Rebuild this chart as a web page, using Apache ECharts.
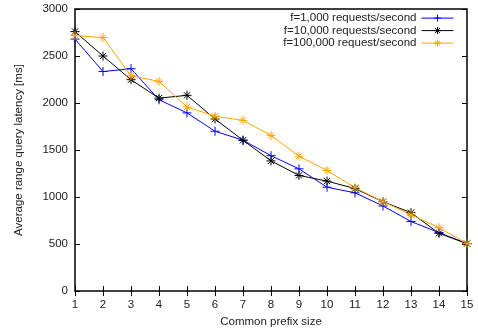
<!DOCTYPE html>
<html><head><meta charset="utf-8">
<script src="https://cdn.jsdelivr.net/npm/echarts@6/dist/echarts.min.js"></script>
<style>html,body{margin:0;padding:0;background:#fff}#c{width:478px;height:333px}</style>
</head><body><div id="c"></div>
<script>
const categories = [1,2,3,4,5,6,7,8,9,10,11,12,13,14,15];
const f1000 = [2680,2335,2365,2035,1895,1700,1605,1440,1300,1105,1045,905,740,622,505];
const f10000 = [2760,2500,2248,2052,2082,1830,1604,1385,1230,1170,1090,950,834,615,505];
const f100000 = [2718,2696,2290,2230,1958,1859,1816,1654,1435,1283,1100,951,812,675,505];
const seriesNames = ['f=1,000 requests/second','f=10,000 requests/second','f=100,000 request/second'];
const seriesColors = ['#0000ff','#000000','#ffa500'];
const yTicks = [0,500,1000,1500,2000,2500,3000];

const plus = 'path://M0,5L10,5M5,0L5,10';
const star = 'path://M0,5L10,5M5,0L5,10M1.5,1.5L8.5,8.5M1.5,8.5L8.5,1.5';
const symbols = [plus, star, star];
const font = 'Liberation Sans';
function mk(i, data){
  const color = seriesColors[i];
  return {name: seriesNames[i], type:'line', data: data.map((v,k)=>[categories[k], v]), symbol: symbols[i], symbolSize: 9,
    lineStyle:{color, width:1}, itemStyle:{color:'none', borderColor:color, borderWidth:1},
    emphasis:{disabled:true}, animation:false, z: 3};
}
const legends = seriesNames.map((n,i)=>({
  orient:'vertical', right:24, top:12 + i*12.5, align:'right', itemWidth:32, itemHeight:9, itemGap:0, padding:0,
  textStyle:{fontFamily:font, fontSize:11.5, color:'#222'},
  itemStyle:{color:'none', borderColor:seriesColors[i], borderWidth:1},
  lineStyle:{color:seriesColors[i], width:1},
  data:[n], selectedMode:false
}));
const chart = echarts.init(document.getElementById('c'));
chart.setOption({
  animation:false,
  textStyle:{fontFamily:font},
  grid:{left:75, right:11, top:9, bottom:41, show:true, borderColor:'#000', borderWidth:1.5},
  legend: legends,
  xAxis:[{type:'value', min:1, max:15, interval:1, position:'bottom',
    name:'Common prefix size', nameLocation:'middle', nameGap:23,
    nameTextStyle:{fontFamily:font, fontSize:11.5, color:'#222'},
    axisLine:{show:false}, axisTick:{inside:true, length:5, lineStyle:{color:'#000'}},
    axisLabel:{fontFamily:font, fontSize:11.5, color:'#222', margin:8}, splitLine:{show:false}},
    {type:'value', min:1, max:15, interval:1, position:'top', axisLine:{show:false},
    axisTick:{inside:true, length:5, lineStyle:{color:'#000'}}, axisLabel:{show:false}, splitLine:{show:false}}],
  yAxis:[{type:'value', min:yTicks[0], max:yTicks[yTicks.length-1], interval:500,
    name:'Average range query latency [ms]', nameLocation:'middle', nameGap:50, nameRotate:90,
    nameTextStyle:{fontFamily:font, fontSize:11.5, color:'#222'},
    axisLine:{show:false}, axisTick:{inside:true, length:5, lineStyle:{color:'#000'}},
    axisLabel:{fontFamily:font, fontSize:11.5, color:'#222', margin:7, formatter: v => String(v)}, splitLine:{show:false}},
    {type:'value', min:0, max:3000, interval:500, position:'right', axisLine:{show:false},
    axisTick:{inside:true, length:5, lineStyle:{color:'#000'}}, axisLabel:{show:false}, splitLine:{show:false}}],
  series:[mk(0, f1000), mk(1, f10000), mk(2, f100000)]
});
</script></body></html>
